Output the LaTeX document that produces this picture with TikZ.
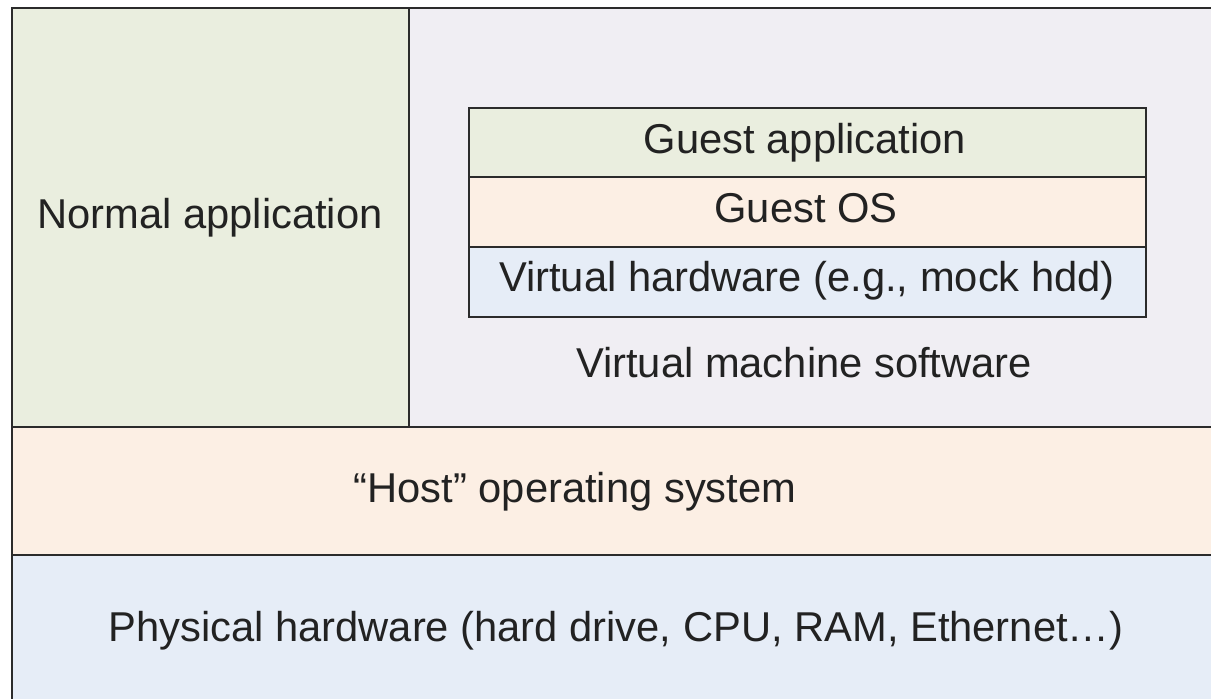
\documentclass[tikz,border=0pt]{standalone}
\usepackage{fontspec}
\setmainfont{Liberation Sans}
\definecolor{cgreen}{HTML}{EAEEDF}
\definecolor{cpeach}{HTML}{FCEFE4}
\definecolor{cblue}{HTML}{E6EDF7}
\definecolor{clav}{HTML}{F0EEF3}
\definecolor{cline}{HTML}{2B2B2B}
\definecolor{ctext}{HTML}{222222}
\tikzset{
  layer/.style={draw=cline, line width=2.6pt},
  lbl/.style={anchor=base, inner sep=0pt, text=ctext, font=\fontsize{41.7}{50}\selectfont},
}
\begin{document}
\begin{tikzpicture}[x=1pt,y=-1pt]
\fill[white] (0,0) rectangle (1211,699);
\useasboundingbox (0,0) rectangle (1211,699);
\clip (0,0) rectangle (1211,699);
% main layers
\path[layer, fill=cgreen] (12,8) rectangle (409,427);
\path[layer, fill=clav] (409,8) rectangle (1240,427);
\path[layer, fill=cpeach] (12,427) rectangle (1240,555);
\path[layer, fill=cblue] (12,555) rectangle (1240,720);
% guest stack
\path[layer, fill=cgreen] (469,108) rectangle (1146,177);
\path[layer, fill=cpeach] (469,177) rectangle (1146,247);
\path[layer, fill=cblue] (469,247) rectangle (1146,317);
% labels
\node[lbl] (normal) at (210,228) {Normal application};
\node[lbl] (gapp) at (805,153) {Guest application};
\node[lbl] (gos) at (806,222) {Guest OS};
\node[lbl] (vhw) at (807,291) {Virtual hardware (e.g., mock hdd)};
\node[lbl] (vms) at (804,377) {Virtual machine software};
\node[lbl] (host) at (575,502) {“Host” operating system};
\node[lbl] (phys) at (616,641) {Physical hardware (hard drive, CPU, RAM, Ethernet…)};
\end{tikzpicture}
\end{document}
